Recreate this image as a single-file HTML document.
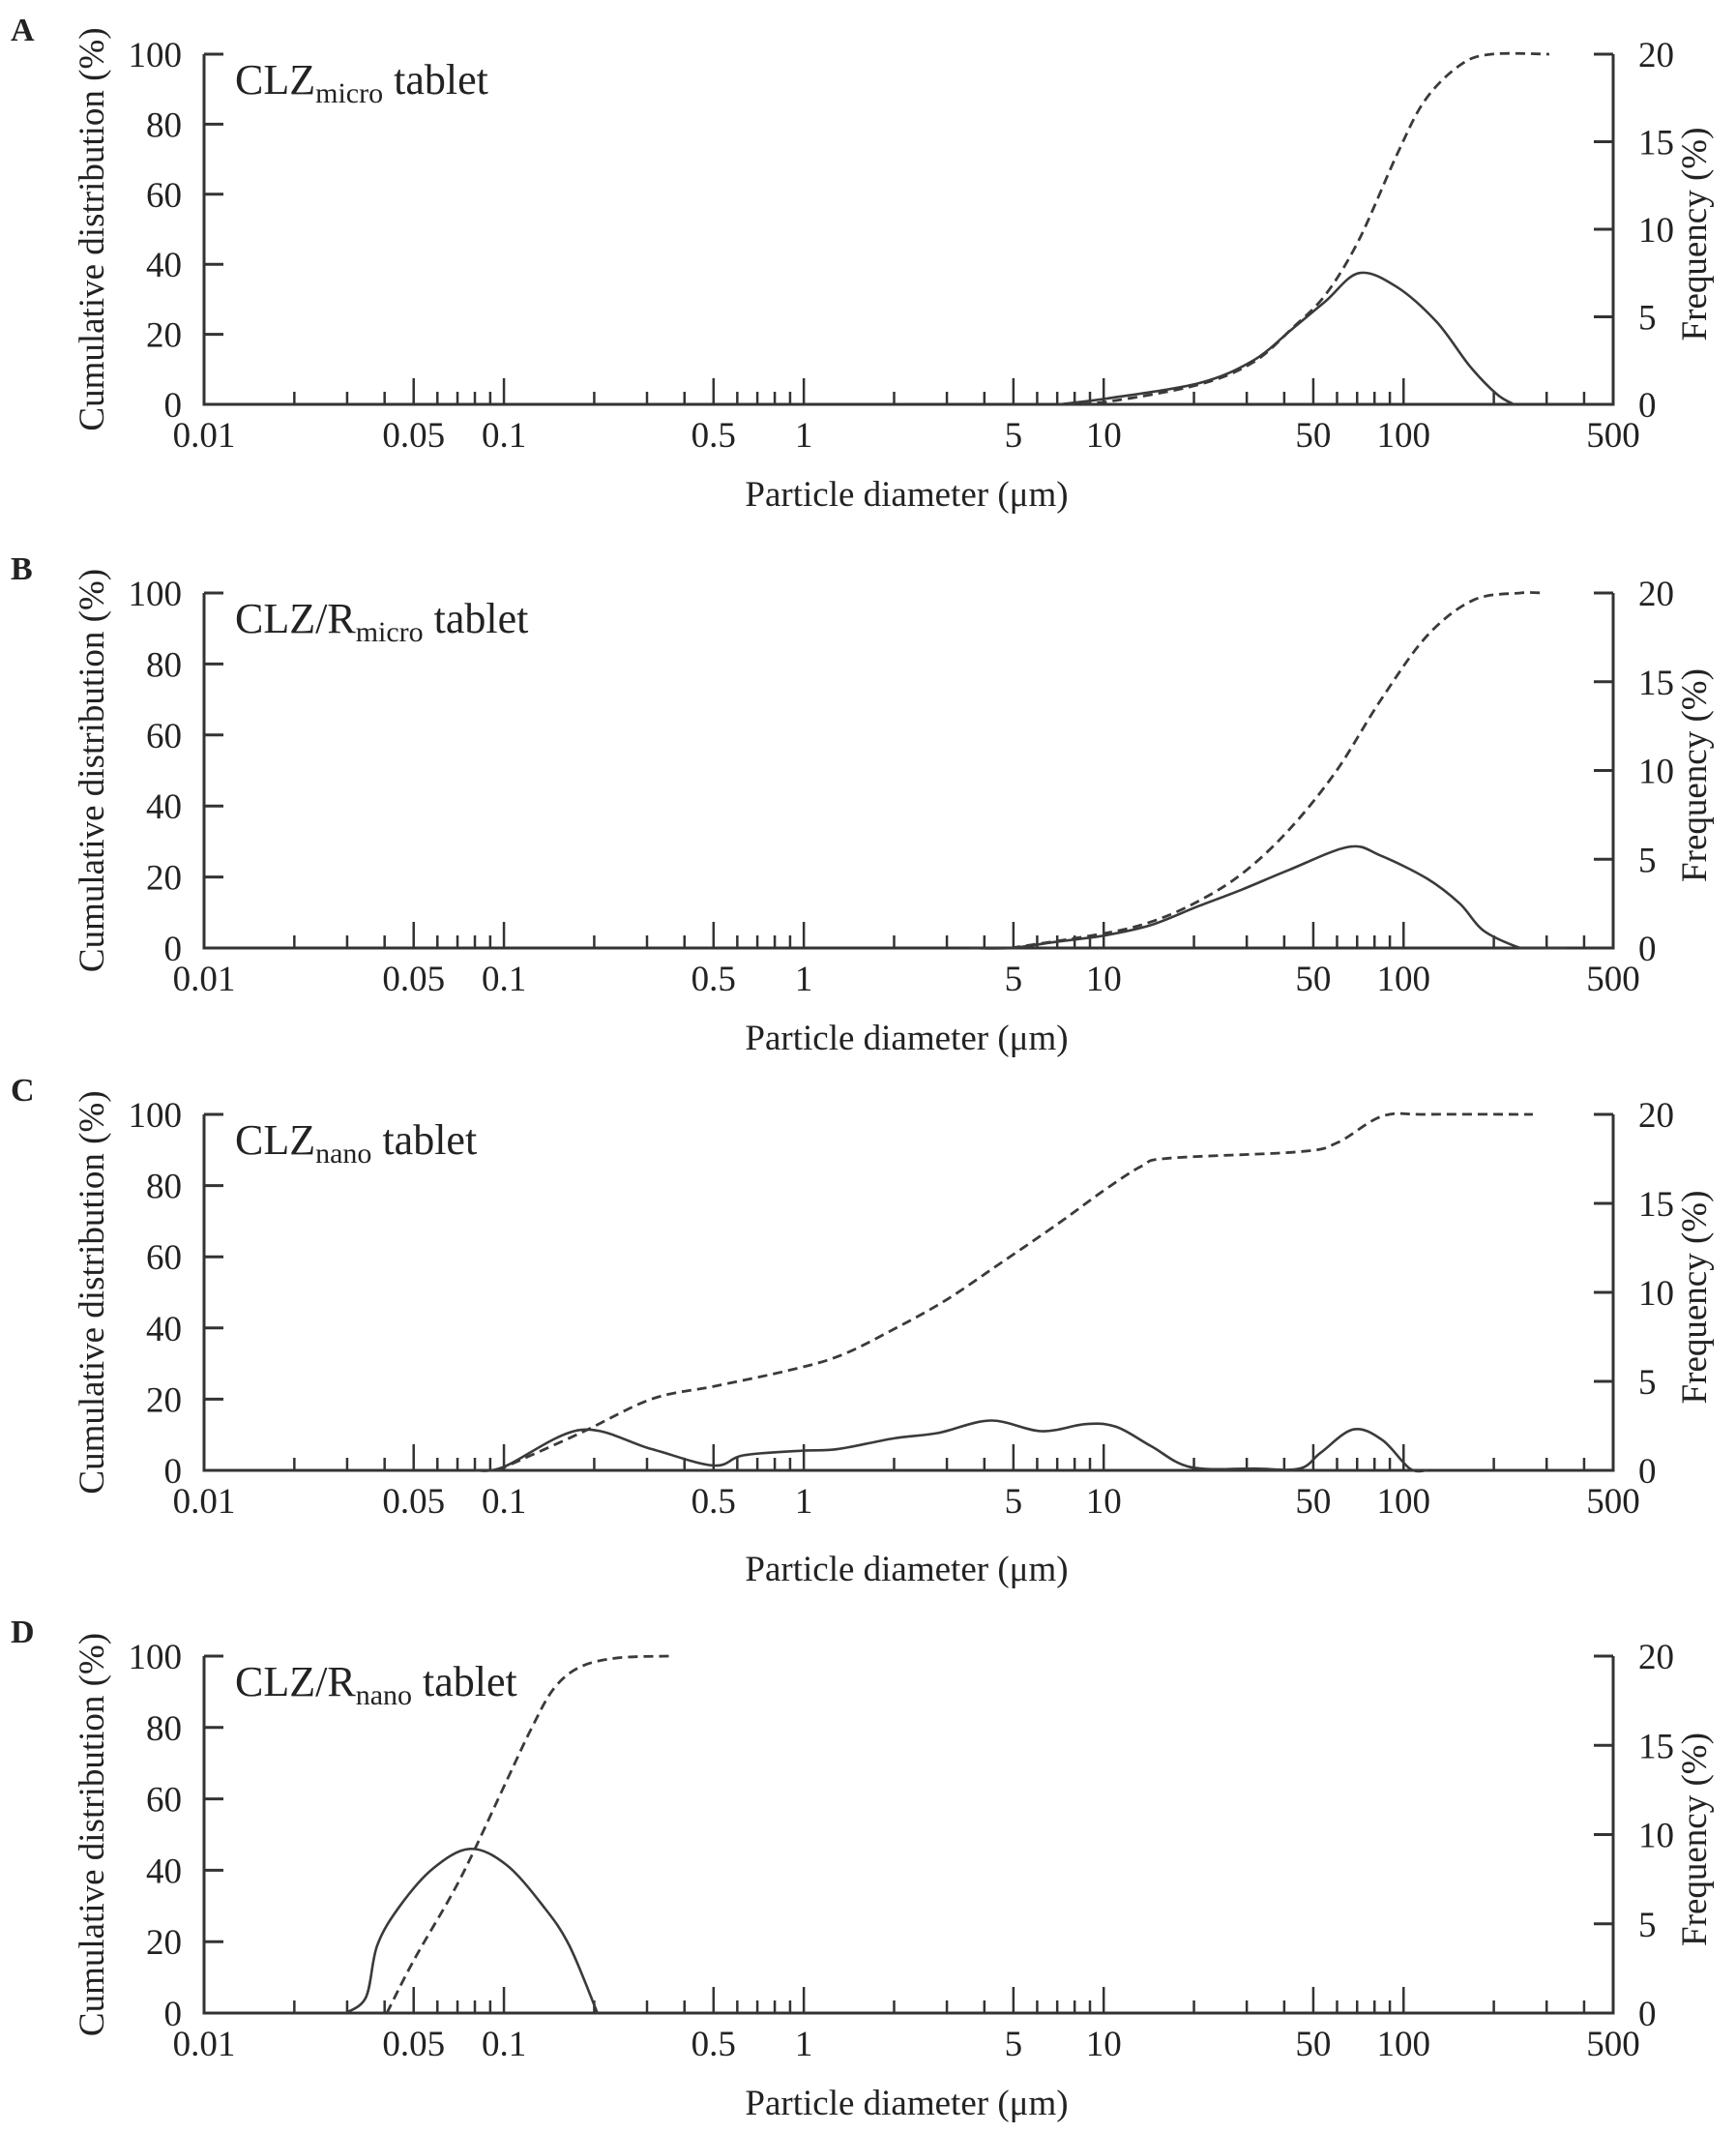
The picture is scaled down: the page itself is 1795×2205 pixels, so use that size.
<!DOCTYPE html>
<html><head><meta charset="utf-8">
<style>
html,body{margin:0;padding:0;background:#fff;}
svg{display:block;font-family:"Liberation Serif",serif;}
</style></head>
<body>
<svg id="fig" width="1795" height="2205" viewBox="0 0 1795 2205" xmlns="http://www.w3.org/2000/svg"></svg>
<script>
// ---- data ----
const panelLetters = ["A","B","C","D"];
const panelTitles = ["CLZ","CLZ/R","CLZ","CLZ/R"];
const panelSubs = ["micro","micro","nano","nano"];
const xTickLabels = ["0.01","0.05","0.1","0.5","1","5","10","50","100","500"];
const xTickValues = [0.01,0.05,0.1,0.5,1,5,10,50,100,500];
const leftTickValues = [0,20,40,60,80,100];
const rightTickValues = [0,5,10,15,20];

const freqA_x = [7.1,10.4,20.7,31.5,42.5,55,71,95,129,166,204,233];
const freqA_y = [0,0.35,1.2,2.5,4.3,5.9,7.5,6.7,4.7,2.2,0.6,0];
const cumA_x = [7.5,10.4,20.7,31.5,42.5,55,71,95,118,155,197,306];
const cumA_y = [0,0.8,5.6,12,21.7,31.4,47,71.3,86.9,97,100,100];

const freqB_x = [3.6,4.9,7.0,10,14.3,20.3,29,41.5,65.8,84,120,154,184,236,263,350];
const freqB_y = [0,0,0.36,0.7,1.28,2.3,3.3,4.4,5.7,5.2,3.9,2.5,1.0,0.1,0,0];
const cumB_x = [4.9,10,14.3,20.3,29,41.5,59.6,84,120,171,245,290];
const cumB_y = [0,4.1,7.3,12.8,21,33.3,49.8,69.9,88,98,100,100];

const freqC_x = [0.08,0.1,0.18,0.31,0.5,0.63,0.97,1.3,2,2.8,4.2,6.2,8.7,11,14.4,19.5,32,45,53,68,85,105,120];
const freqC_y = [0,0.2,2.27,1.2,0.27,0.85,1.1,1.2,1.8,2.1,2.8,2.2,2.6,2.45,1.36,0.18,0.1,0.1,1.0,2.3,1.7,0.1,0];
const cumC_x = [0.095,0.18,0.31,0.5,0.85,1.3,1.98,3,4.6,7.1,10,13.4,16.5,45,60,85,120,270];
const cumC_y = [0,10.5,20,23.6,27.7,32,39.5,48,58.6,69.5,78.6,85.5,87.7,89.5,92,99.5,100,100];

const freqD_x = [0.0297,0.0347,0.0378,0.045,0.058,0.077,0.102,0.135,0.165,0.205];
const freqD_y = [0,0.9,3.8,6,8.1,9.2,8.3,6,3.8,0];
const cumD_x = [0.0407,0.0502,0.0668,0.079,0.102,0.124,0.147,0.18,0.24,0.357];
const cumD_y = [0,15,33,45,65,80,91,97,99.5,100];

const freqXs = [freqA_x,freqB_x,freqC_x,freqD_x];
const freqYs = [freqA_y,freqB_y,freqC_y,freqD_y];
const cumXs = [cumA_x,cumB_x,cumC_x,cumD_x];
const cumYs = [cumA_y,cumB_y,cumC_y,cumD_y];

// ---- layout ----
const X0 = 211, X1 = 1668;
const panelTop = [56,613,1152,1712];
const panelBot = [418,980,1520,2081];
const titleOffset = [105,105,114,105];
const NS = "http://www.w3.org/2000/svg";
const svg = document.getElementById('fig');
const lxmin = Math.log10(0.01), lxmax = Math.log10(500);
function xs(v){ return X0 + (Math.log10(v)-lxmin)/(lxmax-lxmin)*(X1-X0); }
function mk(tag, attrs, parent){ const e=document.createElementNS(NS,tag); for(const k in attrs) e.setAttribute(k,attrs[k]); (parent||svg).appendChild(e); return e; }
function smoothPath(pts){
  let d = "M"+pts[0][0].toFixed(1)+","+pts[0][1].toFixed(1);
  for(let i=0;i<pts.length-1;i++){
    const p0=pts[Math.max(0,i-1)], p1=pts[i], p2=pts[i+1], p3=pts[Math.min(pts.length-1,i+2)];
    const c1=[p1[0]+(p2[0]-p0[0])/6, p1[1]+(p2[1]-p0[1])/6];
    const c2=[p2[0]-(p3[0]-p1[0])/6, p2[1]-(p3[1]-p1[1])/6];
    d += " C"+c1[0].toFixed(1)+","+c1[1].toFixed(1)+" "+c2[0].toFixed(1)+","+c2[1].toFixed(1)+" "+p2[0].toFixed(1)+","+p2[1].toFixed(1);
  }
  return d;
}
const minorVals = [];
for (let dec=-2; dec<=2; dec++){ for (let m=2;m<=9;m++){ const v=m*Math.pow(10,dec); if (v<=500 && m!==5) minorVals.push(v);} }

for (let p=0;p<4;p++){
  const top=panelTop[p], bot=panelBot[p];
  const yl = v => bot - v/100*(bot-top);
  const yr = v => bot - v/20*(bot-top);
  const g = mk('g',{});
  
  
  const L = mk('text',{x:11,y:top-14,'font-size':34,'font-weight':'bold',fill:'#222'},g);
  L.textContent = panelLetters[p];
  
  
  const ax = mk('path',{d:`M${X0},${top} V${bot} H${X1} V${top}`,fill:'none',stroke:'#333','stroke-width':3},g);
  
  
  leftTickValues.forEach(v=>{
    const y=yl(v);
    const t = mk('line',{x1:X0,x2:X0+20,y1:y,y2:y,stroke:'#333','stroke-width':3},g);
    
    
    const tx = mk('text',{x:188,y:y+13,'font-size':37,'text-anchor':'end',fill:'#222'},g);
    tx.textContent=v;
    
    
  });
  rightTickValues.forEach(v=>{
    const y=yr(v);
    const t = mk('line',{x1:X1-20,x2:X1,y1:y,y2:y,stroke:'#333','stroke-width':3},g);
    
    
    const tx = mk('text',{x:1694,y:y+13,'font-size':37,fill:'#222'},g);
    tx.textContent=v;
    
    
  });
  xTickValues.forEach((v,i)=>{
    const x=xs(v);
    if (v>0.01 && v<500){
      const t = mk('line',{x1:x,x2:x,y1:bot,y2:bot-27,stroke:'#333','stroke-width':2.5},g);
      
      
    }
    const tx = mk('text',{x:x,y:bot+44,'font-size':37,'text-anchor':'middle',fill:'#222'},g);
    tx.textContent=xTickLabels[i];
    
    
  });
  minorVals.forEach(v=>{
    const x=xs(v);
    const t = mk('line',{x1:x,x2:x,y1:bot,y2:bot-13,stroke:'#333','stroke-width':2.5},g);
    
    
  });
  const xt = mk('text',{x:(X0+X1)/2-2,y:bot+titleOffset[p],'font-size':37,'text-anchor':'middle',fill:'#222'},g);
  xt.textContent='Particle diameter (\u03bcm)';
  
  
  const cy=(top+bot)/2;
  const ytl = mk('text',{x:0,y:0,'font-size':37,'text-anchor':'middle',fill:'#222',transform:`translate(107,${cy}) rotate(-90)`},g);
  ytl.textContent='Cumulative distribution (%)';
  
  
  const ytr = mk('text',{x:0,y:0,'font-size':37,'text-anchor':'middle',fill:'#222',transform:`translate(1764,${cy+5}) rotate(-90)`},g);
  ytr.textContent='Frequency (%)';
  
  
  const an = mk('text',{x:243,y:top+41,'font-size':44,fill:'#222'},g);
  
  
  const s1 = mk('tspan',{},an); s1.textContent=panelTitles[p];
  const s2 = mk('tspan',{'font-size':30,dy:9},an); s2.textContent=panelSubs[p];
  const s3 = mk('tspan',{dy:-9},an); s3.textContent=' tablet';
  const fp = freqXs[p].map((v,i)=>[xs(v), yr(freqYs[p][i])]);
  const fl = mk('path',{d:smoothPath(fp),fill:'none',stroke:'#3a3a3a','stroke-width':2.6},g);
  
  
  const cp = cumXs[p].map((v,i)=>[xs(v), yl(cumYs[p][i])]);
  const cl = mk('path',{d:smoothPath(cp),fill:'none',stroke:'#3a3a3a','stroke-width':2.8,'stroke-dasharray':'10 6'},g);
  
  
}
</script>
</body></html>
